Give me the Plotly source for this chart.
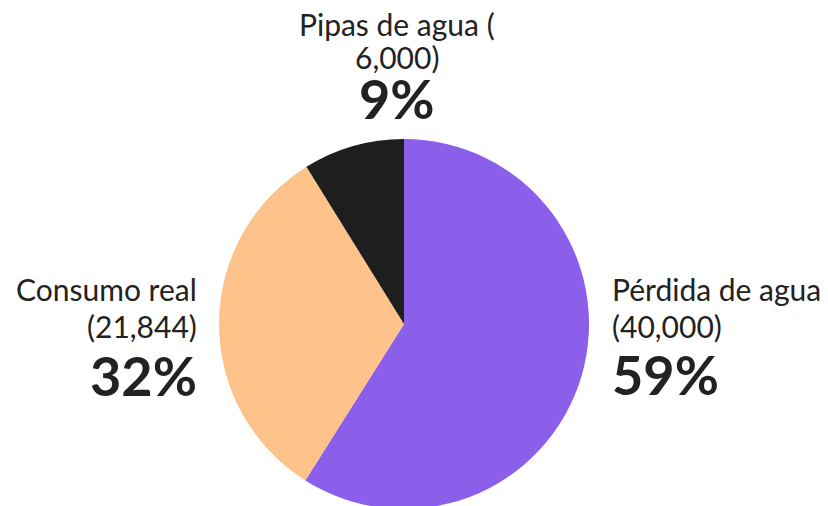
import plotly.graph_objects as go

labels = ["Pérdida de agua", "Consumo real", "Pipas de agua"]
values = [40000, 21844, 6000]
colors = ["#8c5fea", "#fdc38a", "#1e1e1e"]
name_lines = ["Pérdida de agua", "Consumo real", "Pipas de agua ("]
value_lines = ["(40,000)", "(21,844)", "6,000)"]

total = sum(values)
pcts = [f"{round(v / total * 100)}%" for v in values]

W, H = 828, 506
# page body has an 8px margin, so positions are in figure pixels
cx, cy, r = 396, 316, 185

fig = go.Figure(go.Pie(
    labels=labels, values=values, sort=False, direction="clockwise", rotation=0,
    marker=dict(colors=colors, line=dict(width=0)),
    textinfo="none", hoverinfo="label+value+percent", showlegend=False,
    domain=dict(x=[(cx - r) / W, (cx + r) / W], y=[(H - cy - r) / H, (H - cy + r) / H]),
))

FONT = "Lato"
anchors = [
    (602, "left", [281, 318, 366]),
    (191, "right", [281, 318, 367]),
    (389, "center", [16, 49, 91]),
]
anns = []
for i, (xp, xa, ys) in enumerate(anchors):
    for txt, yp, size, bold in [(name_lines[i], ys[0], 30, False),
                                (value_lines[i], ys[1], 30, False),
                                (pcts[i], ys[2], 54, True)]:
        anns.append(dict(
            x=xp / W, y=(H - yp) / H, xref="paper", yref="paper",
            xanchor=xa, yanchor="middle", align=xa,
            text=f"<b>{txt}</b>" if bold else txt, showarrow=False,
            font=dict(family=FONT, size=size, color="#222222"),
        ))

fig.update_layout(
    width=W, height=H, margin=dict(l=0, r=0, t=0, b=0),
    paper_bgcolor="white", plot_bgcolor="white", annotations=anns,
)
fig.write_html("out.html")
